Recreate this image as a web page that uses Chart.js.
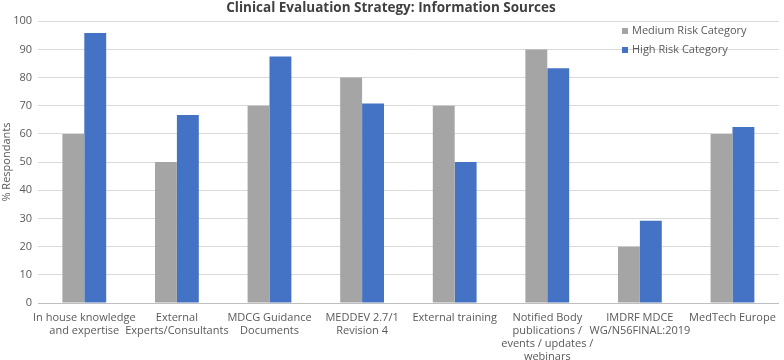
<!DOCTYPE html>
<html>
<head>
<meta charset="utf-8">
<script src="https://cdn.jsdelivr.net/npm/chart.js@4/dist/chart.umd.min.js"></script>
<style>
  html, body { margin: 0; padding: 0; background: #fff; }
  #wrap { width: 784px; height: 360px; }
</style>
</head>
<body>
<div id="wrap"><canvas id="chart" width="784" height="360"></canvas></div>
<script>
const categories = [
  ['In house knowledge', 'and expertise'],
  ['External', 'Experts/Consultants'],
  ['MDCG Guidance', 'Documents'],
  ['MEDDEV 2.7/1', 'Revision 4'],
  ['External training'],
  ['Notified Body', 'publications /', 'events / updates /', 'webinars'],
  ['IMDRF MDCE', 'WG/N56FINAL:2019'],
  ['MedTech Europe']
];
const mediumRisk = [60, 50, 70, 80, 70, 90, 20, 60];
const highRisk = [95.8, 66.7, 87.5, 70.8, 50, 83.3, 29.2, 62.5];
const yTicks = [0, 10, 20, 30, 40, 50, 60, 70, 80, 90, 100];

const fontFamily = "'Open Sans', 'Noto Sans', sans-serif";
const textColor = '#595959';

// legend drawn inside the plot area, like the original
const insideLegend = {
  id: 'insideLegend',
  afterDraw(chart) {
    const ctx = chart.ctx;
    ctx.save();
    ctx.font = '11px ' + fontFamily;
    ctx.textBaseline = 'middle';
    chart.data.datasets.forEach((ds, i) => {
      const y = 31 + i * 19;
      ctx.fillStyle = ds.backgroundColor;
      ctx.fillRect(622, y - 3, 6, 6);
      ctx.fillStyle = textColor;
      ctx.fillText(ds.label, 632, y);
    });
    ctx.restore();
  }
};

Chart.defaults.font.family = fontFamily;
Chart.defaults.color = textColor;

new Chart(document.getElementById('chart').getContext('2d'), {
  type: 'bar',
  data: {
    labels: categories,
    datasets: [
      { label: 'Medium Risk Category', data: mediumRisk, backgroundColor: '#a5a5a5' },
      { label: 'High Risk Category', data: highRisk, backgroundColor: '#4472c4' }
    ]
  },
  options: {
    responsive: false,
    animation: false,
    devicePixelRatio: 1,
    layout: { padding: { left: 0, right: 2, top: 0, bottom: 0 } },
    datasets: {
      bar: { barPercentage: 1, categoryPercentage: 0.473 }
    },
    plugins: {
      legend: { display: false },
      tooltip: { enabled: false },
      title: {
        display: true,
        text: 'Clinical Evaluation Strategy: Information Sources',
        color: '#404040',
        font: { size: 13.5, weight: 'bold' },
        padding: { top: 0, bottom: 5 }
      }
    },
    scales: {
      x: {
        grid: { display: false, drawTicks: false },
        border: { color: '#bfbfbf' },
        ticks: {
          font: { size: 11 },
          maxRotation: 0,
          autoSkip: false,
          padding: 8
        },
        afterFit: scale => { scale.height = 57; }
      },
      y: {
        min: 0,
        max: 100,
        afterBuildTicks: scale => { scale.ticks = yTicks.map(v => ({ value: v })); },
        grid: { color: '#d9d9d9', drawTicks: false },
        border: { display: false },
        ticks: { font: { size: 11 }, padding: 6 },
        title: {
          display: true,
          text: '% Respondants',
          font: { size: 11 },
          padding: 0
        },
        afterFit: scale => { scale.width = 38; }
      }
    }
  },
  plugins: [insideLegend]
});
</script>
</body>
</html>
